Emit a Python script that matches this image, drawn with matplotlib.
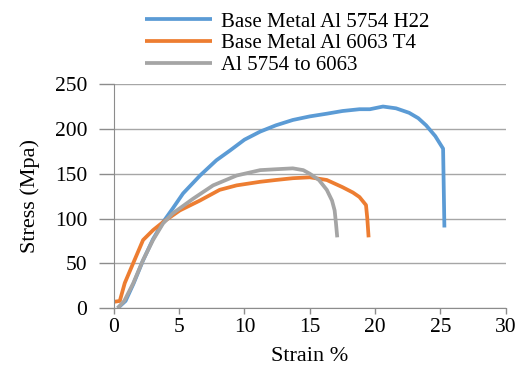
import matplotlib
matplotlib.use("Agg")
import matplotlib.pyplot as plt

# Data
blue_x = [0.3, 0.9, 1.5, 2.2, 3.0, 3.77, 4.5, 5.3, 6.6, 7.85, 8.9, 10.0, 11.2, 12.4, 13.7, 15.0, 16.3, 17.5, 18.8, 19.6, 20.6, 21.6, 22.6, 23.3, 23.9, 24.6, 25.2, 25.3]
blue_y = [0, 8, 27, 52, 77, 96, 111, 128, 148, 165, 176, 188, 197, 204, 210, 214, 217, 220, 222, 222, 225, 223, 218, 212, 204, 192, 178, 90]

orange_x = [0.0, 0.46, 0.84, 1.48, 2.24, 3.0, 3.77, 5.05, 6.58, 8.1, 9.4, 11.2, 12.4, 13.7, 15.0, 16.3, 17.5, 18.3, 18.8, 19.3, 19.4, 19.5]
orange_y = [7, 8, 28, 50, 76, 87, 96, 109, 120, 132, 137, 141, 143, 145, 146, 143, 135, 129, 124, 115, 100, 79]

gray_x = [0.3, 0.8, 1.48, 2.24, 3.0, 3.77, 4.5, 6.06, 7.6, 9.4, 11.2, 12.4, 13.7, 14.5, 15.0, 15.7, 16.3, 16.7, 16.9, 17.0, 17.1]
gray_y = [0, 8, 27.5, 53.6, 76, 94.5, 105.6, 122, 137, 148, 154, 155, 156, 154, 150, 143, 132, 120, 109, 95, 79]

series = [
    ("Base Metal Al 5754 H22", blue_x, blue_y, "#5B9BD5"),
    ("Base Metal Al 6063 T4", orange_x, orange_y, "#ED7D31"),
    ("Al 5754 to 6063", gray_x, gray_y, "#A5A5A5"),
]
x_ticks = [0, 5, 10, 15, 20, 25, 30]
y_ticks = [0, 50, 100, 150, 200, 250]

plt.rcParams['font.family'] = ['Liberation Serif', 'DejaVu Serif']

fig = plt.figure(figsize=(5.22, 3.69), dpi=100)
ax = fig.add_axes([0.218, 0.165, 0.751, 0.607])

handles = []
for label, xs, ys, c in series:
    h, = ax.plot(xs, ys, color=c, lw=2.7, label=label, solid_joinstyle='round',
                 solid_capstyle='butt')
    handles.append(h)

ax.set_xlim(0, 30)
ax.set_ylim(0, 250)
ax.set_xticks(x_ticks)
ax.set_yticks(y_ticks)
ax.tick_params(labelsize=15.5, color='#8c8c8c', direction='out', width=1)
ax.tick_params(axis='x', length=4, pad=3)
ax.tick_params(axis='y', length=11, pad=8)
ax.grid(axis='y', color='#a6a6a6', lw=1)
ax.set_axisbelow(True)
for s in ['top', 'right']:
    ax.spines[s].set_visible(False)
for s in ['left', 'bottom']:
    ax.spines[s].set_color('#8c8c8c')

ax.set_xlabel("Strain %", fontsize=16, labelpad=7)
ax.set_ylabel("Stress (Mpa)", fontsize=16, labelpad=11)

fig.legend(handles=handles, loc='upper left', bbox_to_anchor=(0.262, 0.99),
           frameon=False, fontsize=15, handlelength=3.2, handletextpad=0.45,
           labelspacing=0.1, borderaxespad=0)

fig.savefig("out.png", dpi=100)
